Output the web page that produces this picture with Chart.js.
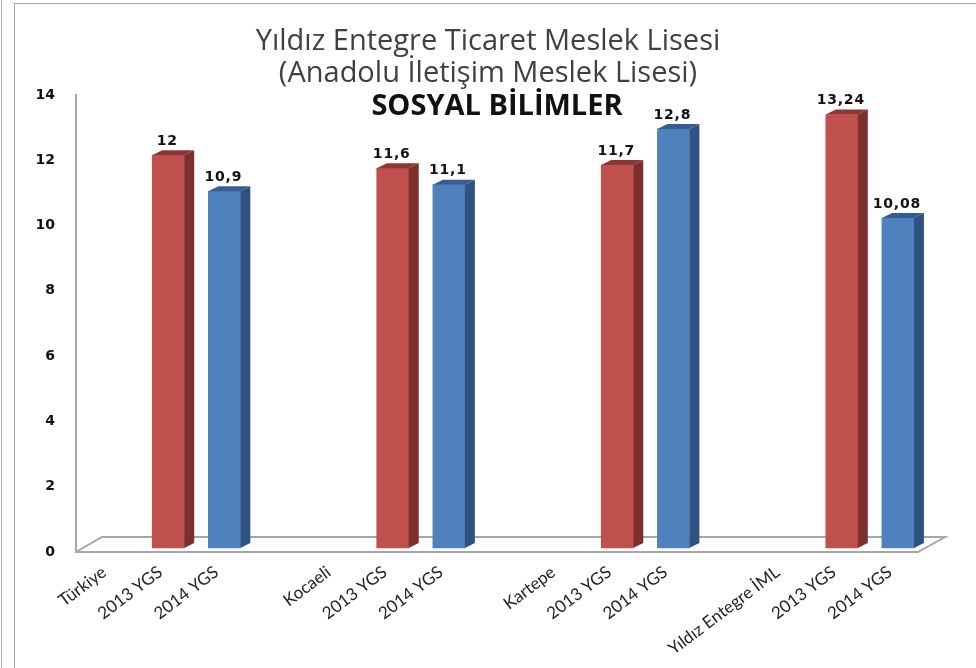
<!DOCTYPE html>
<html lang="tr">
<head>
<meta charset="utf-8">
<title>Sosyal Bilimler</title>
<script src="https://cdn.jsdelivr.net/npm/chart.js@4"></script>
<style>
  html, body { margin: 0; padding: 0; background: #fff; overflow: hidden; }
  #wrap { position: relative; width: 976px; height: 668px; }
  #frame { position: absolute; left: 14px; top: 3px; right: 0; bottom: 0; border-left: 1px solid #a6a6a6; border-top: 1px solid #a6a6a6; }
  #outer { position: absolute; left: 1px; top: 0; bottom: 0; border-left: 1px solid #b4b4b4; }
  canvas { position: absolute; left: 0; top: 0; }
</style>
</head>
<body>
<div id="wrap">
  <div id="outer"></div>
  <div id="frame"></div>
  <canvas id="chart" width="976" height="668"></canvas>
</div>
<script>
const categories = [
  'Türkiye', '2013 YGS', '2014 YGS', '',
  'Kocaeli', '2013 YGS', '2014 YGS', '',
  'Kartepe', '2013 YGS', '2014 YGS', '',
  'Yıldız Entegre İML', '2013 YGS', '2014 YGS'
];
const values2013 = [null, 12, null, null, null, 11.6, null, null, null, 11.7, null, null, null, 13.24, null];
const values2014 = [null, null, 10.9, null, null, null, 11.1, null, null, null, 12.8, null, null, null, 10.08];
const titleLines = ['Yıldız Entegre Ticaret Meslek Lisesi', '(Anadolu İletişim Meslek Lisesi)'];
const subTitle = 'SOSYAL BİLİMLER';

// sahte 3B görünüm: derinlik ve kayma
const DEPTH_X = 10;
const DEPTH_Y = 5;
const SHIFT_X = 8;

const sideColors = ['#7d2f2d', '#2f5283'];
const topColors = ['#8f3533', '#345d93'];

const fake3d = {
  id: 'fake3d',
  beforeDatasetsDraw(chart) {
    const { ctx } = chart;
    const left = chart.chartArea.left;
    const right = chart.chartArea.right;
    const bottom = chart.chartArea.bottom;

    // zemin
    ctx.save();
    ctx.strokeStyle = '#a6a6a6';
    ctx.lineWidth = 2;
    ctx.beginPath();
    ctx.moveTo(left, bottom);
    ctx.lineTo(left + 26, bottom - 15);
    ctx.lineTo(right + 27, bottom - 15);
    ctx.lineTo(right, bottom);
    ctx.stroke();
    ctx.restore();

    ctx.save();
    ctx.translate(SHIFT_X, 0);
  },
  afterDatasetsDraw(chart) {
    const { ctx } = chart;
    chart.data.datasets.forEach((ds, i) => {
      chart.getDatasetMeta(i).data.forEach((bar, idx) => {
        if (ds.data[idx] === null) return;
        const { x, y, base, width } = bar.getProps(['x', 'y', 'base', 'width'], true);
        const x0 = x - width / 2;
        const x1 = x + width / 2;

        ctx.fillStyle = sideColors[i];
        ctx.beginPath();
        ctx.moveTo(x1, y);
        ctx.lineTo(x1 + DEPTH_X, y - DEPTH_Y);
        ctx.lineTo(x1 + DEPTH_X, base - DEPTH_Y);
        ctx.lineTo(x1, base);
        ctx.closePath();
        ctx.fill();

        ctx.fillStyle = topColors[i];
        ctx.beginPath();
        ctx.moveTo(x0, y);
        ctx.lineTo(x0 + DEPTH_X, y - DEPTH_Y);
        ctx.lineTo(x1 + DEPTH_X, y - DEPTH_Y);
        ctx.lineTo(x1, y);
        ctx.closePath();
        ctx.fill();

        // değer etiketi
        ctx.fillStyle = '#111';
        ctx.font = 'bold 14px "DejaVu Sans"';
        ctx.letterSpacing = '0.8px';
        ctx.textAlign = 'center';
        ctx.textBaseline = 'middle';
        ctx.fillText(String(ds.data[idx]).replace('.', ','), x - 1, y - 14);
        ctx.letterSpacing = '0px';
      });
    });
    ctx.restore();

    // kalın alt başlık
    ctx.save();
    ctx.fillStyle = '#111';
    ctx.font = 'bold 29px "Open Sans"';
    ctx.textAlign = 'center';
    ctx.textBaseline = 'middle';
    ctx.fillText(subTitle, 497, 107);
    ctx.restore();
  }
};

new Chart(document.getElementById('chart'), {
  type: 'bar',
  data: {
    labels: categories,
    datasets: [
      { label: '2013 YGS', data: values2013, backgroundColor: '#c0504d', yAxisID: 'yBars', barThickness: 32, grouped: false },
      { label: '2014 YGS', data: values2014, backgroundColor: '#4f81bd', yAxisID: 'yBars', barThickness: 32, grouped: false }
    ]
  },
  options: {
    responsive: false,
    animation: false,
    plugins: {
      legend: { display: false },
      tooltip: { enabled: false },
      title: {
        display: true,
        text: titleLines,
        color: '#404040',
        font: { family: 'Open Sans', size: 29, weight: 'normal', lineHeight: 1.103 },
        padding: { top: 26, bottom: 5 }
      }
    },
    scales: {
      x: {
        afterFit: s => { s.height = 116; },
        grid: { display: false, drawTicks: false },
        border: { color: '#a6a6a6', width: 2 },
        ticks: {
          autoSkip: false,
          maxRotation: 37,
          minRotation: 37,
          padding: 10,
          color: '#222',
          font: { family: 'Lato', size: 17 }
        }
      },
      y: {
        min: 0,
        max: 14,
        afterFit: s => { s.width = 76; },
        grid: { display: false, drawTicks: false },
        border: { color: '#a6a6a6', width: 2 },
        ticks: {
          stepSize: 2,
          padding: 21,
          color: '#111',
          font: { family: 'DejaVu Sans', size: 14, weight: 'bold' }
        }
      },
      // çubuklar için görünmez eksen: 3B tabanı 4 piksel yukarıda, sağda boşluk bırakır
      yBars: {
        position: 'right',
        min: -0.122,
        max: 13.84,
        afterFit: s => { s.width = 58; },
        grid: { display: false, drawTicks: false },
        border: { display: false },
        ticks: { display: false }
      }
    }
  },
  plugins: [fake3d]
});
</script>
</body>
</html>
